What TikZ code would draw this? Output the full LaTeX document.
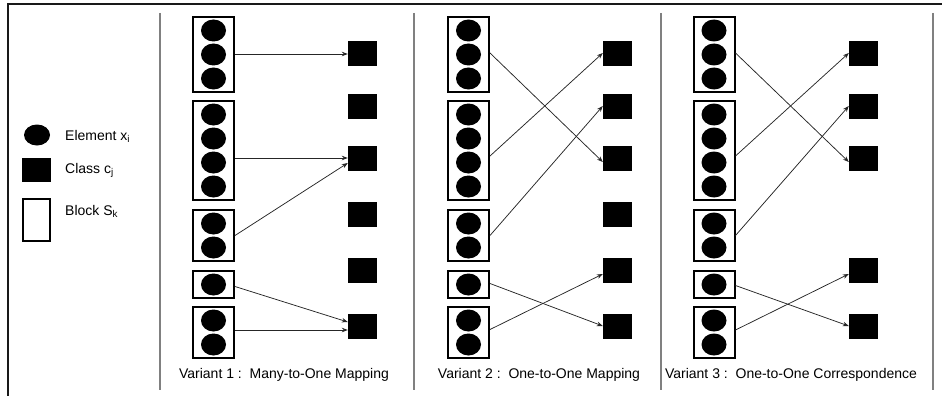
\documentclass[tikz,border=0pt]{standalone}
\usepackage{fontspec}
\setmainfont{Liberation Sans}
\usetikzlibrary{arrows.meta,calc,shapes.geometric}
\newcommand{\mkblock}[4]{% name, x, ycenter, n
  \node[blk, minimum height={24*#4+3}] (#1) at (#2,#3) {};
  \foreach \k in {1,...,#4}
    \node[elem] (#1e\k) at (#2,{#3+24*(\k-(#4+1)/2)}) {};
}
\begin{document}
\begin{tikzpicture}[x=1pt,y=-1pt,
  elem/.style={ellipse, fill=black, minimum width=25pt, minimum height=22pt, inner sep=0pt},
  cls/.style={rectangle, fill=black, minimum width=29pt, minimum height=25pt, inner sep=0pt},
  blk/.style={rectangle, draw=black, line width=2pt, minimum width=41pt, inner sep=0pt},
  conn/.style={draw=black!85, line width=0.75pt, -{Stealth[length=6pt,width=4.5pt]}},
  sep/.style={draw=black!50, line width=1.1pt},
  frame/.style={draw=black!90, line width=1.4pt},
  txt/.style={font=\fontsize{14}{16}\selectfont, inner sep=0pt},
]
\useasboundingbox (0,0) rectangle (942,396);
% frame and separators
\draw[frame] (8,396) -- (8,4) -- (942,4);
\coordinate (s1t) at (160,13); \coordinate (s1b) at (160,390);
\coordinate (s2t) at (414,13); \coordinate (s2b) at (414,390);
\coordinate (s3t) at (661,13); \coordinate (s3b) at (661,390);
\coordinate (s4t) at (933,13); \coordinate (s4b) at (933,390);
\draw[sep] (s1t) -- (s1b);
\draw[sep] (s2t) -- (s2b);
\draw[sep] (s3t) -- (s3b);
\draw[sep] (s4t) -- (s4b);

% legend
\node[elem, minimum width=26pt, minimum height=21pt] (lgE) at (37,135) {};
\node[cls, minimum height=24pt] (lgC) at (36.5,170) {};
\node[blk, minimum width=27pt, minimum height=42pt] (lgB) at (36.5,220) {};
\node[txt, anchor=base west] (lgEt) at (65,140) {Element x\textsubscript{i}};
\node[txt, anchor=base west] (lgCt) at (65,173) {Class c\textsubscript{j}};
\node[txt, anchor=base west] (lgBt) at (65,215) {Block S\textsubscript{k}};

% ---------- Variant 1 ----------
\mkblock{v1b1}{213.5}{54.5}{3}
\mkblock{v1b2}{213.5}{150.5}{4}
\mkblock{v1b3}{213.5}{235.5}{2}
\mkblock{v1b4}{213.5}{284.5}{1}
\mkblock{v1b5}{213.5}{332.5}{2}
\node[cls] (v1c1) at (362.5,54) {};
\node[cls] (v1c2) at (362.5,106) {};
\node[cls] (v1c3) at (362.5,158) {};
\node[cls] (v1c4) at (362.5,214) {};
\node[cls] (v1c5) at (362.5,270) {};
\node[cls] (v1c6) at (362.5,326) {};
\draw[conn] (v1b1.east |- v1c1.west) -- (v1c1.west);
\draw[conn] (v1b2.east |- v1c3.west) -- (v1c3.west);
\draw[conn] (v1b3.east) -- ($(v1c3.west)+(0,5)$);
\draw[conn] ($(v1b4.east)+(0,2)$) -- ($(v1c6.west)+(0,-4)$);
\draw[conn] ($(v1b5.east)+(0,-2.5)$) -- ($(v1c6.west)+(0,4)$);
\node[txt, anchor=base] (v1cap) at (284,378) {Variant 1 :\ \ Many-to-One Mapping};

% ---------- Variant 2 ----------
\mkblock{v2b1}{468.5}{54.5}{3}
\mkblock{v2b2}{468.5}{150.5}{4}
\mkblock{v2b3}{468.5}{235.5}{2}
\mkblock{v2b4}{468.5}{284.5}{1}
\mkblock{v2b5}{468.5}{332.5}{2}
\node[cls] (v2c1) at (617.5,54) {};
\node[cls] (v2c2) at (617.5,106) {};
\node[cls] (v2c3) at (617.5,158) {};
\node[cls] (v2c4) at (617.5,214) {};
\node[cls] (v2c5) at (617.5,270) {};
\node[cls] (v2c6) at (617.5,326) {};
\draw[conn] ($(v2b1.east)+(0,-1.5)$) -- ($(v2c3.west)+(0,4)$);
\draw[conn] ($(v2b2.east)+(0,5.5)$) -- ($(v2c1.west)+(0,-1)$);
\draw[conn] (v2b3.east) -- (v2c2.west);
\draw[conn] ($(v2b4.east)+(0,-1)$) -- (v2c6.west);
\draw[conn] ($(v2b5.east)+(0,-3)$) -- ($(v2c5.west)+(0,4)$);
\node[txt, anchor=base] (v2cap) at (539,378) {Variant 2 :\ \ One-to-One Mapping};

% ---------- Variant 3 ----------
\mkblock{v3b1}{714}{54.5}{3}
\mkblock{v3b2}{714}{150.5}{4}
\mkblock{v3b3}{714}{235.5}{2}
\mkblock{v3b4}{714}{284.5}{1}
\mkblock{v3b5}{714}{332.5}{2}
\node[cls] (v3c1) at (863.5,54) {};
\node[cls] (v3c2) at (863.5,106) {};
\node[cls] (v3c3) at (863.5,158) {};
\node[cls] (v3c5) at (863.5,270) {};
\node[cls] (v3c6) at (863.5,326) {};
\draw[conn] ($(v3b1.east)+(0,-1.5)$) -- ($(v3c3.west)+(0,4)$);
\draw[conn] ($(v3b2.east)+(0,5.5)$) -- ($(v3c1.west)+(0,-1)$);
\draw[conn] (v3b3.east) -- (v3c2.west);
\draw[conn] ($(v3b4.east)+(0,1)$) -- (v3c6.west);
\draw[conn] ($(v3b5.east)+(0,-2.5)$) -- ($(v3c5.west)+(0,4)$);
\node[txt, anchor=base] (v3cap) at (791,378) {Variant 3 :\ \ One-to-One Correspondence};
\end{tikzpicture}
\end{document}
